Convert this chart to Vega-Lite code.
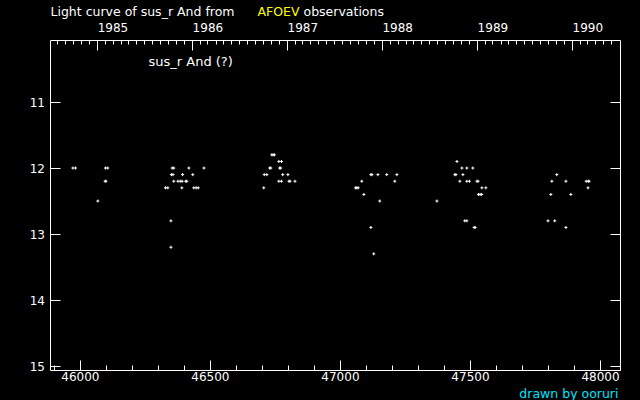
{
  "$schema": "https://vega.github.io/schema/vega-lite/v6.json",
  "width": 570,
  "height": 330,
  "autosize": "none",
  "padding": {"left": 50, "top": 40, "right": 20, "bottom": 30},
  "background": "black",
  "data": {"values": [
    {"jd": 45973, "mag": 12.0}, {"jd": 45983, "mag": 12.0}, {"jd": 46069, "mag": 12.5},
    {"jd": 46098, "mag": 12.0}, {"jd": 46107, "mag": 12.0}, {"jd": 46097, "mag": 12.2}, {"jd": 46100, "mag": 12.2},
    {"jd": 46329, "mag": 12.3}, {"jd": 46338, "mag": 12.3}, {"jd": 46350, "mag": 12.8}, {"jd": 46350, "mag": 13.2},
    {"jd": 46352, "mag": 12.1}, {"jd": 46358, "mag": 12.1}, {"jd": 46355, "mag": 12.0}, {"jd": 46361, "mag": 12.0},
    {"jd": 46361, "mag": 12.2}, {"jd": 46377, "mag": 12.2}, {"jd": 46386, "mag": 12.2}, {"jd": 46393, "mag": 12.2},
    {"jd": 46392, "mag": 12.3}, {"jd": 46395, "mag": 12.1}, {"jd": 46407, "mag": 12.2}, {"jd": 46411, "mag": 12.2},
    {"jd": 46419, "mag": 12.0}, {"jd": 46434, "mag": 12.1}, {"jd": 46438, "mag": 12.3}, {"jd": 46447, "mag": 12.3},
    {"jd": 46455, "mag": 12.3}, {"jd": 46477, "mag": 12.0},
    {"jd": 46707, "mag": 12.3}, {"jd": 46709, "mag": 12.1}, {"jd": 46719, "mag": 12.1}, {"jd": 46730, "mag": 12.0},
    {"jd": 46734, "mag": 12.0}, {"jd": 46738, "mag": 11.8}, {"jd": 46743, "mag": 11.8}, {"jd": 46748, "mag": 11.8},
    {"jd": 46765, "mag": 11.9}, {"jd": 46775, "mag": 11.9}, {"jd": 46768, "mag": 12.0}, {"jd": 46772, "mag": 12.0},
    {"jd": 46765, "mag": 12.2}, {"jd": 46775, "mag": 12.2}, {"jd": 46780, "mag": 12.1}, {"jd": 46800, "mag": 12.1},
    {"jd": 46804, "mag": 12.2}, {"jd": 46808, "mag": 12.2}, {"jd": 46827, "mag": 12.2},
    {"jd": 47060, "mag": 12.3}, {"jd": 47065, "mag": 12.3}, {"jd": 47070, "mag": 12.3}, {"jd": 47084, "mag": 12.2},
    {"jd": 47092, "mag": 12.4}, {"jd": 47119, "mag": 12.9}, {"jd": 47130, "mag": 13.3}, {"jd": 47119, "mag": 12.1},
    {"jd": 47123, "mag": 12.1}, {"jd": 47146, "mag": 12.1}, {"jd": 47153, "mag": 12.5}, {"jd": 47180, "mag": 12.1},
    {"jd": 47211, "mag": 12.2}, {"jd": 47219, "mag": 12.1},
    {"jd": 47373, "mag": 12.5}, {"jd": 47450, "mag": 11.9}, {"jd": 47442, "mag": 12.1}, {"jd": 47446, "mag": 12.1},
    {"jd": 47461, "mag": 12.2}, {"jd": 47469, "mag": 12.0}, {"jd": 47473, "mag": 12.1}, {"jd": 47480, "mag": 12.8},
    {"jd": 47488, "mag": 12.8}, {"jd": 47488, "mag": 12.0}, {"jd": 47488, "mag": 12.2}, {"jd": 47498, "mag": 12.2},
    {"jd": 47511, "mag": 12.0}, {"jd": 47516, "mag": 12.9}, {"jd": 47520, "mag": 12.9}, {"jd": 47527, "mag": 12.2},
    {"jd": 47531, "mag": 12.2}, {"jd": 47533, "mag": 12.4}, {"jd": 47539, "mag": 12.4}, {"jd": 47545, "mag": 12.4},
    {"jd": 47546, "mag": 12.3}, {"jd": 47561, "mag": 12.3},
    {"jd": 47800, "mag": 12.8}, {"jd": 47811, "mag": 12.4}, {"jd": 47815, "mag": 12.2}, {"jd": 47826, "mag": 12.8},
    {"jd": 47834, "mag": 12.1}, {"jd": 47869, "mag": 12.2}, {"jd": 47869, "mag": 12.9}, {"jd": 47888, "mag": 12.4},
    {"jd": 47947, "mag": 12.2}, {"jd": 47955, "mag": 12.2}, {"jd": 47958, "mag": 12.2}, {"jd": 47954, "mag": 12.3}
  ]},
  "resolve": {"axis": {"x": "independent", "y": "independent"}},
  "layer": [
    {
      "mark": {"type": "point", "shape": "M-1,0H1M0,-1V1", "size": 9, "filled": false, "stroke": "white", "strokeWidth": 1, "opacity": 1},
      "encoding": {
        "x": {"field": "jd", "type": "quantitative",
          "scale": {"domain": [45885, 48077], "nice": false, "zero": false},
          "axis": {"orient": "bottom", "values": [46000, 46500, 47000, 47500, 48000], "format": "d",
            "tickSize": -10, "labelPadding": 11.5,
            "title": "drawn by ooruri", "titleColor": "#00e5ff", "titleFontSize": 12.5, "titleX": 568, "titleY": 23,
            "titleAlign": "right", "titleBaseline": "middle", "titleAngle": 0}},
        "y": {"field": "mag", "type": "quantitative",
          "scale": {"domain": [10.06, 15.06], "reverse": true, "nice": false, "zero": false},
          "axis": {"orient": "left", "values": [11, 12, 13, 14, 15], "tickSize": -10, "labelPadding": 15.5,
            "title": "sus_r And (?)", "titleX": 98, "titleY": 21.5, "titleAngle": 0,
            "titleAlign": "left", "titleBaseline": "middle"}}
      }
    },
    {
      "mark": {"type": "point", "opacity": 0},
      "encoding": {
        "x": {"field": "jd", "type": "quantitative",
          "axis": {"orient": "bottom", "values": [45900, 46100, 46200, 46300, 46400, 46600, 46700, 46800, 46900, 47100, 47200, 47300, 47400, 47600, 47700, 47800, 47900],
            "tickSize": -5, "labels": false, "title": null}},
        "y": {"field": "mag", "type": "quantitative",
          "axis": {"orient": "right", "values": [11, 12, 13, 14, 15], "tickSize": -10, "labels": false,
            "title": "observations", "titleFontSize": 12.5, "titleX": -317, "titleY": -28.5, "titleAngle": 0,
            "titleAlign": "left", "titleBaseline": "middle"}}
      }
    },
    {
      "mark": {"type": "point", "opacity": 0},
      "encoding": {
        "x": {"field": "jd", "type": "quantitative",
          "axis": {"orient": "top", "values": [46066.5, 46431.5, 46796.5, 47161.5, 47527.5, 47892.5],
            "labelExpr": "round((datum.value - 45700.5) / 365.25) + 1984",
            "tickSize": -10, "labelPadding": 15.5, "labelAlign": "left",
            "title": "Light curve of sus_r And from", "titleFontSize": 12.5, "titleX": 0, "titleY": -28.5,
            "titleAlign": "left", "titleBaseline": "middle"}},
        "y": {"field": "mag", "type": "quantitative", "axis": null}
      }
    },
    {
      "mark": {"type": "point", "opacity": 0},
      "encoding": {
        "x": {"field": "jd", "type": "quantitative",
          "axis": {"orient": "top", "values": [45913.5, 45944.5, 45974.5, 46005.5, 46035.5,
            46097.5, 46125.5, 46156.5, 46186.5, 46217.5, 46247.5, 46278.5, 46309.5, 46339.5, 46370.5, 46400.5,
            46462.5, 46490.5, 46521.5, 46551.5, 46582.5, 46612.5, 46643.5, 46674.5, 46704.5, 46735.5, 46765.5,
            46827.5, 46855.5, 46886.5, 46916.5, 46947.5, 46977.5, 47008.5, 47039.5, 47069.5, 47100.5, 47130.5,
            47192.5, 47221.5, 47252.5, 47282.5, 47313.5, 47343.5, 47374.5, 47405.5, 47435.5, 47466.5, 47496.5,
            47558.5, 47586.5, 47617.5, 47647.5, 47678.5, 47708.5, 47739.5, 47770.5, 47800.5, 47831.5, 47861.5,
            47923.5, 47951.5, 47982.5, 48012.5, 48043.5],
            "tickSize": -4, "labels": false,
            "title": "AFOEV", "titleColor": "yellow", "titleFontSize": 12.5, "titleX": 207, "titleY": -28.5,
            "titleAlign": "left", "titleBaseline": "middle"}},
        "y": {"field": "mag", "type": "quantitative", "axis": null}
      }
    }
  ],
  "config": {
    "view": {"stroke": "white", "strokeWidth": 1},
    "axis": {"grid": false, "domain": false, "tickColor": "white", "tickWidth": 1,
      "labelColor": "white", "titleColor": "white", "labelFont": "DejaVu Sans", "titleFont": "DejaVu Sans",
      "labelFontSize": 12, "titleFontSize": 13, "titleFontWeight": "normal", "titlePadding": 0}
  }
}
